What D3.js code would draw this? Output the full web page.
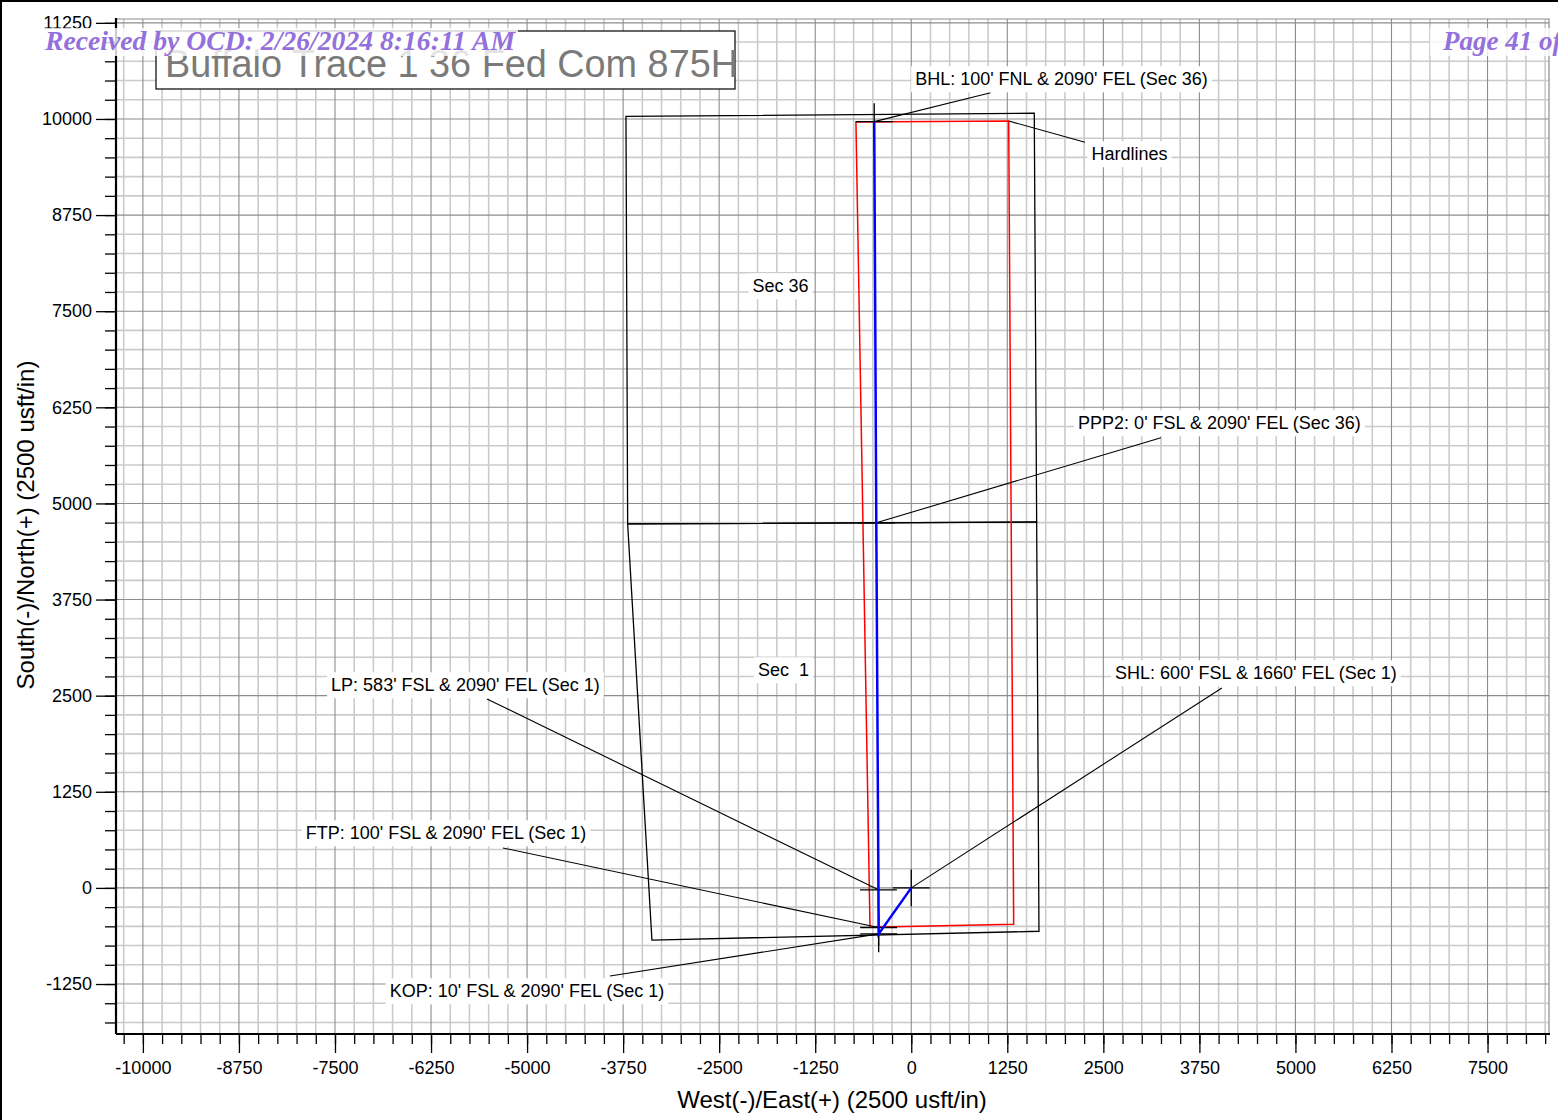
<!DOCTYPE html>
<html>
<head>
<meta charset="utf-8">
<script src="https://cdn.jsdelivr.net/npm/d3@7"></script>
<style>
  html, body { margin: 0; padding: 0; background: #fff; }
  svg { display: block; }
  text { font-family: "Liberation Sans", Arial, sans-serif; white-space: pre; }
</style>
</head>
<body>
<svg id="chart" width="1558" height="1120"></svg>
<script>
// ---------------- DATA (usft, West(-)/East(+), South(-)/North(+)) ----------------
const xTickValues = [-10000, -8750, -7500, -6250, -5000, -3750, -2500, -1250, 0, 1250, 2500, 3750, 5000, 6250, 7500];
const yTickValues = [-1250, 0, 1250, 2500, 3750, 5000, 6250, 7500, 8750, 10000, 11250];

// Section 36 and Section 1 outlines (E, N)
const sec36E = [-3713, 1601, 1632, -3691];
const sec36N = [10033, 10074, 4759, 4733];
const sec1E  = [-3691, 1632, 1662, -3375];
const sec1N  = [4733, 4759, -564, -678];

// Hardlines (red)
const hardE = [-720, 1268, 1333, -537];
const hardN = [9961, 9974, -473, -512];

// Wellbore stations
const stationNames = ["SHL", "KOP", "FTP", "LP", "PPP2", "BHL"];
const stationE = [0, -424, -425, -427, -455, -482];
const stationN = [0, -598, -515, -25, 4748, 9965];

// Annotation texts
const annTexts = [
  "BHL: 100' FNL & 2090' FEL (Sec 36)",
  "Hardlines",
  "PPP2: 0' FSL & 2090' FEL (Sec 36)",
  "SHL: 600' FSL & 1660' FEL (Sec 1)",
  "LP: 583' FSL & 2090' FEL (Sec 1)",
  "FTP: 100' FSL & 2090' FEL (Sec 1)",
  "KOP: 10' FSL & 2090' FEL (Sec 1)",
  "Sec 36",
  "Sec  1"
];
// Leader targets (E, N) — null when no leader
const annTargetE = [-482, 1268, -455, 0, -427, -425, -424, null, null];
const annTargetN = [9965, 9974, 4748, 0, -25, -515, -598, null, null];

const titleText = "Buffalo Trace 1 36 Fed Com 875H";
const xTitle = "West(-)/East(+) (2500 usft/in)";
const yTitle = "South(-)/North(+) (2500 usft/in)";
const stampLeft = "Received by OCD: 2/26/2024 8:16:11 AM";
const stampRight = "Page 41 of 52";

// ---------------- LAYOUT (kept separate from data) ----------------
const plot = { left: 116, right: 1549, top: 19, bottom: 1034 };
const xDomain = [-10350, 8300];
const yDomain = [-1900, 11300];
// label centre positions and leader end points, in plot units (usft)
const annLayout = [
  { cx: 1955,  cy: 10520, ex: 1033,  ey: 10342 },
  { cx: 2840,  cy: 9545,  ex: 2261,  ey: 9697 },
  { cx: 4011,  cy: 6046,  ex: 3250,  ey: 5855 },
  { cx: 4486,  cy: 2795,  ex: 4043,  ey: 2600 },
  { cx: -5802, cy: 2639,  ex: -5522, ey: 2457 },
  { cx: -6055, cy: 714,   ex: -5314, ey: 519 },
  { cx: -5001, cy: -1341, ex: -3921, ey: -1146 },
  { cx: -1702, cy: 7828 },
  { cx: -1663, cy: 2834 }
];
const crossArm = 240;

// ---------------- DRAW ----------------
const svg = d3.select("#chart");
const x = d3.scaleLinear().domain(xDomain).range([plot.left, plot.right]);
const y = d3.scaleLinear().domain(yDomain).range([plot.bottom, plot.top]);

svg.append("rect").attr("width", 1558).attr("height", 1120).attr("fill", "#fff");

// grid
const minorX = d3.range(-10250, 8300, 250);
const minorY = d3.range(-1750, 11300, 250);
const grid = svg.append("g");
grid.selectAll(".gxm").data(minorX.filter(v => v % 1250 !== 0)).join("line")
  .attr("x1", d => x(d)).attr("x2", d => x(d)).attr("y1", plot.top).attr("y2", plot.bottom)
  .attr("stroke", "#cbcbcb").attr("stroke-width", 1.6);
grid.selectAll(".gym").data(minorY.filter(v => v % 1250 !== 0)).join("line")
  .attr("y1", d => y(d)).attr("y2", d => y(d)).attr("x1", plot.left).attr("x2", plot.right)
  .attr("stroke", "#cbcbcb").attr("stroke-width", 1.6);
grid.selectAll(".gxM").data(minorX.filter(v => v % 1250 === 0)).join("line")
  .attr("x1", d => x(d)).attr("x2", d => x(d)).attr("y1", plot.top).attr("y2", plot.bottom)
  .attr("stroke", "#8c8c8c").attr("stroke-width", 1.1);
grid.selectAll(".gyM").data(minorY.filter(v => v % 1250 === 0)).join("line")
  .attr("y1", d => y(d)).attr("y2", d => y(d)).attr("x1", plot.left).attr("x2", plot.right)
  .attr("stroke", "#8c8c8c").attr("stroke-width", 1.1);
// top and right frame
svg.append("path")
  .attr("d", `M${plot.left},${plot.top}H${plot.right}V${plot.bottom}`)
  .attr("fill", "none").attr("stroke", "#8c8c8c").attr("stroke-width", 1.2);

// page frame
svg.append("path").attr("d", "M1,1120V1H1558").attr("fill", "none").attr("stroke", "#000").attr("stroke-width", 2);

// axes
const fmt = d => String(d);
const xAxisMinor = d3.axisBottom(x).tickValues(minorX).tickSize(10).tickFormat("");
const xAxis = d3.axisBottom(x).tickValues(xTickValues).tickSize(19).tickPadding(8).tickFormat(fmt);
const yAxisMinor = d3.axisLeft(y).tickValues(minorY).tickSize(11).tickFormat("");
const yAxis = d3.axisLeft(y).tickValues(yTickValues).tickSize(20).tickPadding(4).tickFormat(fmt);

function styleAxis(g) {
  g.select(".domain").remove();
  g.selectAll(".tick line").attr("stroke", "#000").attr("stroke-width", 1.3);
  g.selectAll(".tick text").attr("fill", "#000").style("font-size", "18px")
    .style("font-family", '"Liberation Sans", Arial, sans-serif');
}
svg.append("g").attr("transform", `translate(0,${plot.bottom})`).call(xAxisMinor).call(styleAxis);
svg.append("g").attr("transform", `translate(0,${plot.bottom})`).call(xAxis).call(styleAxis);
svg.append("g").attr("transform", `translate(${plot.left},0)`).call(yAxisMinor).call(styleAxis);
svg.append("g").attr("transform", `translate(${plot.left},0)`).call(yAxis).call(styleAxis);
svg.append("line").attr("x1", plot.left).attr("x2", plot.right + 1).attr("y1", plot.bottom).attr("y2", plot.bottom)
  .attr("stroke", "#000").attr("stroke-width", 2.2);
svg.append("line").attr("x1", plot.left).attr("x2", plot.left).attr("y1", plot.top - 1).attr("y2", plot.bottom)
  .attr("stroke", "#000").attr("stroke-width", 2.2);

// axis titles
svg.append("text").attr("x", 832).attr("y", 1108).attr("text-anchor", "middle")
  .style("font-size", "24px").attr("fill", "#000").text(xTitle);
svg.append("text").attr("transform", "translate(34,525) rotate(-90)").attr("text-anchor", "middle")
  .style("font-size", "24px").attr("fill", "#000").text(yTitle);

const line = d3.line().x(d => x(d[0])).y(d => y(d[1]));
const zip = (a, b) => a.map((v, i) => [v, b[i]]);

// sections
const plotG = svg.append("g");
plotG.append("path").datum(zip(sec36E, sec36N)).attr("d", d => line(d) + "Z")
  .attr("fill", "none").attr("stroke", "#000").attr("stroke-width", 1.3);
plotG.append("path").datum(zip(sec1E, sec1N)).attr("d", d => line(d) + "Z")
  .attr("fill", "none").attr("stroke", "#000").attr("stroke-width", 1.3);
// hardlines
plotG.append("path").datum(zip(hardE, hardN)).attr("d", d => line(d) + "Z")
  .attr("fill", "none").attr("stroke", "#ff0000").attr("stroke-width", 1.5);

// leader lines
annTexts.forEach((t, i) => {
  const L = annLayout[i];
  if (annTargetE[i] === null) return;
  plotG.append("line")
    .attr("x1", x(annTargetE[i])).attr("y1", y(annTargetN[i]))
    .attr("x2", x(L.ex)).attr("y2", y(L.ey))
    .attr("stroke", "#000").attr("stroke-width", 1.1);
});

// crosses at stations
const stations = stationNames.map((n, i) => ({ n, e: stationE[i], nn: stationN[i] }));
plotG.selectAll(".cross").data(stations).join("path")
  .attr("d", d => `M${x(d.e - crossArm)},${y(d.nn)}H${x(d.e + crossArm)}M${x(d.e)},${y(d.nn + crossArm)}V${y(d.nn - crossArm)}`)
  .attr("fill", "none").attr("stroke", "#000").attr("stroke-width", 1.3);

// well path
plotG.append("path").datum(zip(stationE, stationN)).attr("d", line)
  .attr("fill", "none").attr("stroke", "#0000ff").attr("stroke-width", 2.5);

// annotation labels with white backgrounds
annTexts.forEach((t, i) => {
  const L = annLayout[i];
  const g = plotG.append("g");
  const txt = g.append("text").attr("x", x(L.cx)).attr("y", y(L.cy)).attr("dy", "0.35em")
    .attr("xml:space", "preserve")
    .attr("text-anchor", "middle").style("font-size", "18px").attr("fill", "#000").text(t);
  const bb = txt.node().getBBox();
  g.insert("rect", "text").attr("x", bb.x - 4).attr("y", bb.y - 3)
    .attr("width", bb.width + 8).attr("height", bb.height + 6).attr("fill", "#fff");
});

// title box
svg.append("rect").attr("x", 156).attr("y", 31).attr("width", 579).attr("height", 58)
  .attr("fill", "#fff").attr("stroke", "#000").attr("stroke-width", 1.2);
svg.append("text").attr("x", 165).attr("y", 77).style("font-size", "38px").attr("fill", "#7a7a7a")
  .attr("textLength", 573).attr("lengthAdjust", "spacingAndGlyphs").text(titleText);

// stamps
svg.append("rect").attr("x", 40).attr("y", 28).attr("width", 478).attr("height", 28)
  .attr("fill", "#fff").attr("opacity", 0.8);
svg.append("text").attr("x", 45).attr("y", 50).style("font-family", '"Liberation Serif", "Times New Roman", serif')
  .style("font-size", "27px").style("font-style", "italic").style("font-weight", "bold")
  .attr("textLength", 470).attr("lengthAdjust", "spacingAndGlyphs")
  .attr("fill", "#9370db").text(stampLeft);
svg.append("rect").attr("x", 1430).attr("y", 28).attr("width", 140).attr("height", 28)
  .attr("fill", "#fff").attr("opacity", 0.8);
svg.append("text").attr("x", 1443).attr("y", 50).style("font-family", '"Liberation Serif", "Times New Roman", serif')
  .style("font-size", "27px").style("font-style", "italic").style("font-weight", "bold")
  .attr("fill", "#9370db").text(stampRight);
</script>
</body>
</html>
